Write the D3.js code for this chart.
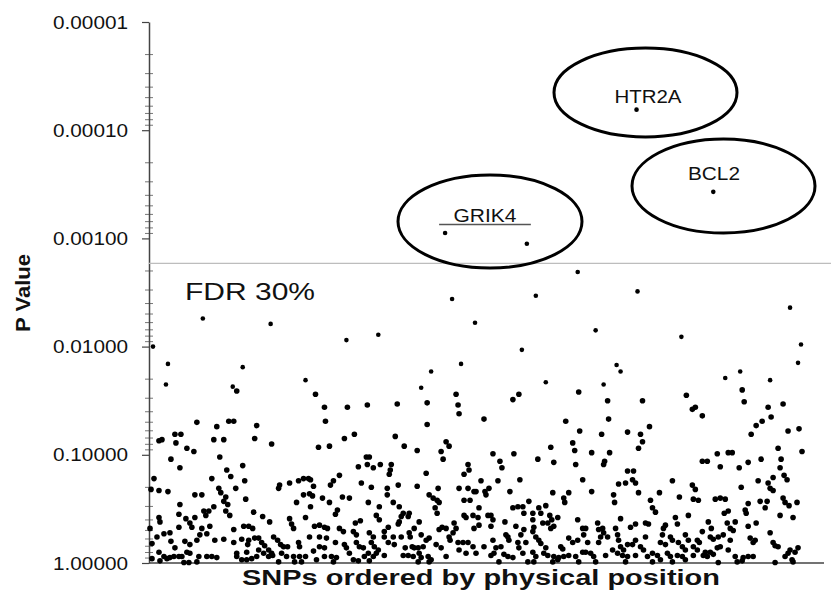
<!DOCTYPE html>
<html>
<head>
<meta charset="utf-8">
<script src="https://cdn.jsdelivr.net/npm/d3@7"></script>
<style>
  body { margin: 0; background: #fff; }
  text { font-family: "Liberation Sans", Arial, sans-serif; fill: #111; }
</style>
</head>
<body>
<div id="chart"></div>
<script>
// SNP rank along the chromosome order, and -log10(P)
var blockA = [[53,2.26],[121,2.21],[3,2.00],[18,1.84],[93,1.81],[16,1.65],[83,1.63],[87,1.59],
  [47,1.30],[67,1.26],[79,1.31],[84,1.31],[107,1.27],[9,1.13],[12,1.14],[25,1.19],[31,1.19],[26,1.11],
  [64,1.14],[74,1.14],[105,1.15],[37,1.06],[44,1.03],[21,0.96],[70,0.98],[30,0.88],[77,0.86],[93,0.90],
  [4,0.78],[62,0.78],[81,0.80],[95,0.76],[1,0.68],[9,0.67],[18,0.66],[69,0.69],[71,0.65],[86,0.69],
  [45,0.63],[52,0.63],[76,0.61],[74,0.57],[96,0.59],[30,0.54],[78,0.54],[54,0.48],[59,0.48],[56,0.44],
  [64,0.52],[76,0.48],[9,0.42],[10,0.38],[29,0.45],[36,0.41],[40,0.37],[42,0.33],[45,0.42],[104,0.47],
  [80,0.44],[0,0.32],[29,0.33],[52,0.32],[60,0.34],[84,0.31],[94,0.34],[99,0.34],[103,0.32],[7,0.24],
  [14,0.27],[20,0.28],[50,0.26],[57,0.27],[65,0.21],[74,0.22],[92,0.22],[99,0.21],[105,0.23],[21,0.20],
  [35,0.20],[2,0.18],[40,0.17],[47,0.21],[84,0.19],[98,0.17],[9,0.10],[25,0.14],[37,0.10],[40,0.09],
  [87,0.09],[97,0.10],[14,0.06],[17,0.04],[20,0.05],[24,0.06],[29,0.06],[32,0.06],[49,0.06],[57,0.06],
  [62,0.06],[67,0.05],[87,0.06],[2,0.04],[10,0.02],[34,0.005],[39,0.005],[47,0.01],[92,0.03],[97,0.03],
  [102,0.04],[107,0.06]];

var blockB = [[156,1.69],[166,1.56],[197,2.06],[122,1.10],[175,1.44],[176,1.31],[198,1.44],[169,1.07],
  [180,1.08],[195,1.15],[205,1.19],[217,0.98],[209,0.89],[218,0.91],[212,0.74],[130,0.72],[129,0.69],
  [140,0.74],[149,0.76],[154,0.78],[159,0.78],[161,0.77],[164,0.71],[184,0.76],[181,0.72],[190,0.81],
  [154,0.63],[160,0.64],[163,0.62],[173,0.60],[180,0.56],[193,0.61],[200,0.60],[147,0.56],[161,0.52],
  [188,0.49],[186,0.45],[113,0.43],[120,0.38],[140,0.41],[142,0.36],[144,0.32],[156,0.42],[165,0.34],
  [170,0.35],[175,0.33],[178,0.32],[190,0.32],[194,0.29],[206,0.37],[211,0.39],[204,0.29],[207,0.26],
  [109,0.23],[112,0.19],[115,0.16],[119,0.12],[122,0.09],[124,0.24],[128,0.21],[131,0.17],[134,0.15],
  [138,0.15],[149,0.19],[150,0.15],[160,0.24],[170,0.24],[177,0.23],[170,0.15],[175,0.14],[186,0.19],
  [195,0.17],[197,0.14],[207,0.19],[210,0.15],[214,0.14],[109,0.12],[114,0.09],[119,0.06],[123,0.07],
  [132,0.09],[137,0.06],[144,0.06],[150,0.06],[156,0.06],[164,0.11],[175,0.06],[182,0.06],[187,0.05],
  [200,0.09],[204,0.03],[209,0.02],[129,0.01],[145,0.01],[152,0.01],[167,0.03],[184,0.01],[215,0.06]];

var blockC = [[229,2.11],[218,1.46],[248,1.47],[278,1.48],[309,1.46],[310,1.38],[278,1.28],[246,1.17],
  [255,1.08],[268,1.04],[297,1.12],[300,1.08],[292,1.03],[294,0.96],[220,0.98],[224,0.88],[231,0.91],
  [242,0.91],[241,0.86],[240,0.82],[277,0.83],[319,0.91],[320,0.86],[315,0.82],[222,0.70],[238,0.69],
  [238,0.63],[249,0.72],[268,0.71],[289,0.69],[280,0.63],[284,0.60],[288,0.58],[290,0.56],[286,0.51],
  [288,0.46],[310,0.69],[319,0.69],[325,0.66],[315,0.58],[321,0.58],[219,0.56],[230,0.52],[244,0.56],
  [250,0.52],[227,0.44],[230,0.40],[254,0.46],[252,0.43],[250,0.38],[249,0.36],[260,0.46],[259,0.43],
  [270,0.38],[239,0.33],[265,0.32],[315,0.44],[317,0.42],[324,0.44],[305,0.37],[307,0.32],[304,0.28],
  [293,0.33],[297,0.32],[290,0.31],[325,0.32],[220,0.28],[224,0.24],[235,0.29],[235,0.24],[244,0.24],
  [252,0.24],[260,0.28],[261,0.24],[272,0.26],[277,0.21],[280,0.23],[300,0.24],[301,0.21],[287,0.17],
  [292,0.14],[222,0.19],[225,0.15],[229,0.12],[239,0.19],[245,0.17],[256,0.14],[263,0.15],[265,0.14],
  [269,0.14],[274,0.15],[309,0.19],[314,0.19],[319,0.19],[324,0.15],[219,0.09],[224,0.06],[227,0.09],
  [235,0.07],[254,0.07],[259,0.07],[264,0.06],[270,0.09],[272,0.05],[279,0.06],[282,0.03],[310,0.12],
  [317,0.09],[297,0.06],[220,0.02],[269,0.01],[280,0.01],[303,2.44],[282,1.77],[272,1.62],[312,1.84],
  [307,1.56]];

var blockD = [[326,2.22],[387,2.47],[429,2.69],[373,1.97],[397,1.67],[430,1.58],[370,1.56],
  [364,1.51],[335,1.33],[417,1.31],[431,1.22],[424,1.11],[426,1.04],[402,1.07],[344,1.01],[365,1.01],
  [389,0.96],[351,0.94],[353,0.88],[405,0.93],[427,0.91],[332,0.76],[349,0.76],[371,0.77],[434,0.77],
  [327,0.66],[336,0.66],[340,0.69],[337,0.63],[361,0.66],[404,0.65],[420,0.65],[415,0.60],[416,0.56],
  [380,0.57],[330,0.51],[364,0.51],[369,0.52],[374,0.52],[375,0.46],[390,0.51],[392,0.46],[397,0.53],
  [384,0.46],[401,0.44],[403,0.40],[409,0.42],[339,0.44],[342,0.44],[344,0.40],[329,0.42],[330,0.35],
  [356,0.38],[342,0.34],[367,0.34],[384,0.40],[385,0.33],[384,0.29],[394,0.37],[399,0.37],[402,0.32],
  [405,0.34],[429,0.40],[434,0.32],[375,0.31],[372,0.26],[357,0.26],[359,0.24],[360,0.21],[344,0.21],
  [335,0.15],[347,0.14],[352,0.15],[369,0.19],[370,0.14],[377,0.19],[387,0.24],[390,0.21],[392,0.18],
  [397,0.14],[412,0.15],[414,0.13],[420,0.23],[424,0.19],[429,0.21],[435,0.26],[327,0.09],[342,0.07],
  [345,0.09],[355,0.08],[359,0.06],[364,0.05],[374,0.09],[384,0.10],[387,0.06],[395,0.09],[399,0.07],
  [405,0.06],[410,0.05],[415,0.06],[420,0.07],[427,0.06],[434,0.10],[350,0.01],[379,0.01],[385,0.01],
  [404,0.01],[409,0.03],[430,0.01]];

var blockE = [[447,2.15],[489,2.51],[533,2.09],[468,1.83],[472,1.77],[455,1.65],[538,1.55],[494,1.50],
  [459,1.50],[460,1.33],[453,1.19],[479,1.21],[501,1.26],[492,1.19],[494,1.12],[490,1.06],[443,1.02],
  [461,1.02],[456,0.94],[455,0.91],[547,1.44],[479,0.85],[485,0.85],[484,0.77],[487,0.74],[470,0.73],
  [477,0.74],[524,0.76],[544,0.72],[547,0.68],[443,0.66],[490,0.65],[511,0.65],[465,0.63],[466,0.56],
  [531,0.61],[545,0.59],[502,0.58],[504,0.51],[507,0.47],[540,0.44],[472,0.41],[527,0.42],[529,0.36],
  [497,0.37],[500,0.36],[487,0.36],[482,0.33],[517,0.35],[515,0.32],[449,0.37],[437,0.32],[450,0.31],
  [454,0.32],[467,0.32],[537,0.26],[455,0.28],[459,0.24],[469,0.26],[470,0.21],[497,0.24],[514,0.26],
  [522,0.24],[524,0.21],[452,0.24],[450,0.19],[439,0.19],[487,0.21],[512,0.19],[517,0.17],[530,0.19],
  [540,0.21],[479,0.17],[484,0.17],[472,0.15],[475,0.12],[464,0.12],[492,0.15],[495,0.12],[534,0.15],
  [537,0.12],[545,0.15],[437,0.10],[442,0.09],[445,0.06],[457,0.07],[469,0.09],[474,0.07],[479,0.06],
  [487,0.07],[499,0.06],[504,0.09],[509,0.07],[519,0.09],[522,0.06],[529,0.07],[534,0.06],[545,0.07],
  [447,0.01],[477,0.01],[504,0.01],[512,0.03],[524,0.01],[537,0.03]];

var blockF = [[642,2.36],[653,2.02],[650,1.85],[592,1.77],[594,1.60],[577,1.71],[622,1.69],[544,1.42],
  [596,1.49],[620,1.44],[635,1.47],[554,1.36],[623,1.35],[614,1.31],[608,1.27],[603,1.19],[640,1.22],
  [651,1.24],[654,1.03],[630,1.06],[569,1.01],[580,1.02],[584,1.02],[554,0.94],[559,0.94],[572,0.89],
  [600,0.93],[613,0.96],[591,0.88],[633,0.96],[632,0.88],[636,0.81],[639,0.77],[625,0.79],[610,0.76],
  [620,0.74],[622,0.69],[625,0.67],[593,0.70],[550,0.58],[567,0.59],[572,0.60],[577,0.59],[612,0.57],
  [619,0.57],[635,0.60],[637,0.56],[641,0.53],[649,0.56],[600,0.55],[617,0.51],[576,0.46],[580,0.48],
  [597,0.49],[598,0.46],[632,0.44],[645,0.42],[560,0.38],[579,0.37],[582,0.32],[585,0.30],[587,0.38],
  [600,0.34],[608,0.37],[554,0.29],[563,0.32],[622,0.28],[549,0.21],[551,0.19],[562,0.24],[565,0.22],
  [570,0.24],[575,0.26],[582,0.21],[602,0.23],[607,0.21],[605,0.19],[625,0.19],[627,0.16],[630,0.15],
  [549,0.12],[557,0.10],[562,0.10],[569,0.14],[572,0.15],[580,0.12],[587,0.06],[595,0.05],[600,0.06],
  [605,0.06],[555,0.07],[559,0.06],[565,0.08],[640,0.09],[642,0.12],[647,0.10],[650,0.14],[637,0.06],
  [570,0.005],[589,0.01],[594,0.02],[627,0.005],[644,0.03],[645,0.01]];

// SNPs above the FDR line, grouped by gene
var genes = ["HTR2A", "BCL2", "GRIK4"];
var geneSnps = [[[488,4.19]], [[565,3.43]], [[296,3.05],[378,2.95]]];

var snpCount = 660;
var fdrP = 0.0017;
var tickValues = [0.00001, 0.0001, 0.001, 0.01, 0.1, 1];
var tickLabels = ["0.00001", "0.00010", "0.00100", "0.01000", "0.10000", "1.00000"];

function renderPlot() {
  var width = 831, height = 592;
  var axisX = 149, plotTop = 22, plotBottom = 563, plotRight = 808;

  var svg = d3.select("#chart").append("svg")
      .attr("width", width)
      .attr("height", height);

  svg.append("rect").attr("width", width).attr("height", height).attr("fill", "#fff");

  var x = d3.scaleLinear().domain([0, snpCount]).range([axisX + 1, plotRight]);
  var y = d3.scaleLog().domain([1, 0.00001]).range([plotBottom, plotTop]);

  function pOf(d) { return Math.pow(10, -d[1]); }

  // minor log ticks, they cross the axis line
  var minor = y.ticks().filter(function(t) {
    return !tickValues.some(function(v) { return Math.abs(v - t) / v < 1e-6; });
  });
  svg.append("g").selectAll("line")
      .data(minor)
    .enter().append("line")
      .attr("x1", axisX - 4).attr("x2", axisX + 4)
      .attr("y1", function(d) { return y(d); })
      .attr("y2", function(d) { return y(d); })
      .attr("stroke", "#777")
      .attr("stroke-width", 1);

  // main axis
  var axis = svg.append("g")
      .attr("transform", "translate(" + axisX + ",0)")
      .call(d3.axisLeft(y)
        .tickValues(tickValues)
        .tickFormat(function(d, i) { return tickLabels[i]; })
        .tickSizeInner(7)
        .tickSizeOuter(0)
        .tickPadding(14));
  axis.select(".domain").attr("stroke", "#444").attr("stroke-width", 1.5);
  axis.selectAll(".tick line").attr("stroke", "#444").attr("stroke-width", 1.2);
  axis.selectAll(".tick text")
      .attr("font-family", "Liberation Sans, Arial, sans-serif")
      .attr("font-size", 19)
      .attr("fill", "#111")
      .attr("textLength", 75)
      .attr("lengthAdjust", "spacingAndGlyphs");

  // bottom line
  svg.append("line")
      .attr("x1", axisX).attr("x2", 824)
      .attr("y1", plotBottom).attr("y2", plotBottom)
      .attr("stroke", "#444").attr("stroke-width", 1.5);

  // FDR threshold
  svg.append("line")
      .attr("x1", axisX).attr("x2", width)
      .attr("y1", y(fdrP)).attr("y2", y(fdrP))
      .attr("stroke", "#bdbdbd").attr("stroke-width", 1.2);

  svg.append("text")
      .attr("x", 185).attr("y", 300)
      .attr("font-size", 23)
      .attr("textLength", 130)
      .attr("lengthAdjust", "spacingAndGlyphs")
      .text("FDR 30%");

  // points
  var allSnps = [].concat(blockA, blockB, blockC, blockD, blockE, blockF);
  geneSnps.forEach(function(g) { allSnps = allSnps.concat(g); });

  svg.append("g").selectAll("circle")
      .data(allSnps)
    .enter().append("circle")
      .attr("cx", function(d) { return x(d[0]); })
      .attr("cy", function(d) { return y(pOf(d)); })
      .attr("r", function(d) { return d[1] > 1.6 ? 2.3 : 2.8; })
      .attr("fill", "#000");

  // gene call-outs (ellipse, label)
  var callouts = [
    {cx: 645.5, cy: 92.5, rx: 91.5, ry: 44.5, tx: 648, ty: 103, tl: 67},
    {cx: 723.5, cy: 186, rx: 91.5, ry: 47, tx: 714, ty: 180, tl: 52},
    {cx: 490, cy: 221.5, rx: 92, ry: 46.5, tx: 485, ty: 222, tl: 63}
  ];

  svg.append("g").selectAll("ellipse")
      .data(callouts)
    .enter().append("ellipse")
      .attr("cx", function(d) { return d.cx; })
      .attr("cy", function(d) { return d.cy; })
      .attr("rx", function(d) { return d.rx; })
      .attr("ry", function(d) { return d.ry; })
      .attr("fill", "none")
      .attr("stroke", "#000")
      .attr("stroke-width", 3);

  svg.append("g").selectAll("text")
      .data(callouts)
    .enter().append("text")
      .attr("x", function(d) { return d.tx; })
      .attr("y", function(d) { return d.ty; })
      .attr("text-anchor", "middle")
      .attr("font-size", 18)
      .attr("textLength", function(d) { return d.tl; })
      .attr("lengthAdjust", "spacingAndGlyphs")
      .text(function(d, i) { return genes[i]; });

  // GRIK4 spans two snps: bar over them
  var grik = geneSnps[2];
  svg.append("line")
      .attr("x1", x(grik[0][0]) - 6).attr("x2", x(grik[1][0]) + 4)
      .attr("y1", 224.5).attr("y2", 224.5)
      .attr("stroke", "#555").attr("stroke-width", 1.5);

  // axis titles
  svg.append("text")
      .attr("x", 242).attr("y", 585)
      .attr("font-size", 22)
      .attr("font-weight", "bold")
      .attr("textLength", 478)
      .attr("lengthAdjust", "spacingAndGlyphs")
      .text("SNPs ordered by physical position");

  svg.append("text")
      .attr("transform", "translate(30,293) rotate(-90)")
      .attr("text-anchor", "middle")
      .attr("font-size", 21)
      .attr("font-weight", "bold")
      .attr("textLength", 78)
      .attr("lengthAdjust", "spacingAndGlyphs")
      .text("P Value");
}

renderPlot();
</script>
</body>
</html>
